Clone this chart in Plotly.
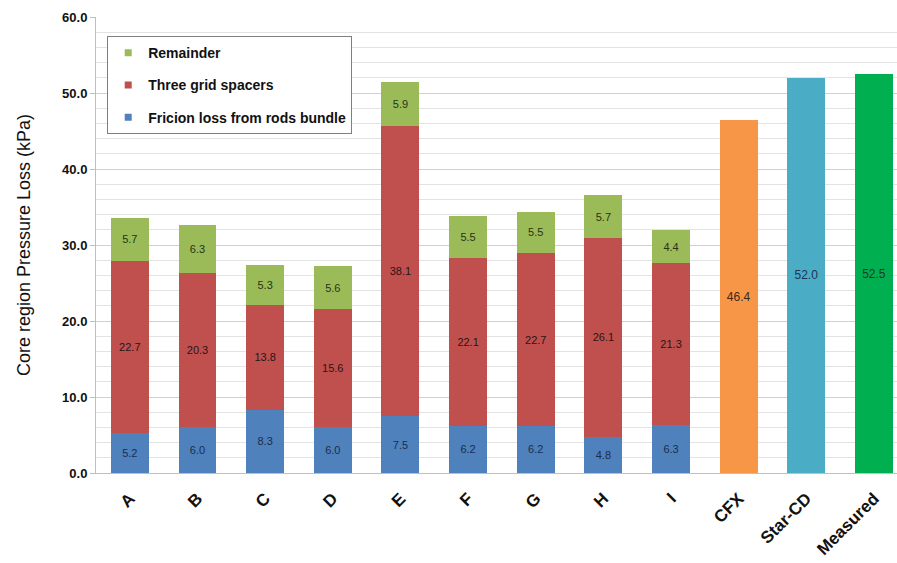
import plotly.graph_objects as go

# Categories and loss components (kPa)
cases = ["A", "B", "C", "D", "E", "F", "G", "H", "I"]
friction = [5.2, 6.0, 8.3, 6.0, 7.5, 6.2, 6.2, 4.8, 6.3]
grid_spacers = [22.7, 20.3, 13.8, 15.6, 38.1, 22.1, 22.7, 26.1, 21.3]
remainder = [5.7, 6.3, 5.3, 5.6, 5.9, 5.5, 5.5, 5.7, 4.4]

# Whole-core totals from the codes and the measurement
totals_names = ["CFX", "Star-CD", "Measured"]
totals_values = [46.4, 52.0, 52.5]
totals_colors = ["#F79646", "#4BACC6", "#00B050"]
totals_text_colors = ["#3a2a1a", "#1f3350", "#1f3a2a"]

all_cats = cases + totals_names
FONT = "Liberation Sans, Arial, sans-serif"
BAR_W = 0.56

fig = go.Figure()

def stacked(name, vals, color, textcolor, rank):
    fig.add_trace(go.Bar(
        x=cases, y=vals, name=name,
        marker=dict(color=color, line=dict(width=0)),
        width=BAR_W,
        text=[f"{v:.1f}" for v in vals],
        textposition="inside", insidetextanchor="middle",
        textangle=0, constraintext="none",
        textfont=dict(family=FONT, size=11, color=textcolor),
        showlegend=False,
    ))
    # small square key for the legend
    fig.add_trace(go.Scatter(
        x=[None], y=[None], mode="markers", name=f"<b>{name}</b>",
        marker=dict(symbol="square", size=7, color=color),
        legendgroup=f"g{rank}", legendrank=rank, showlegend=True,
    ))

stacked("Fricion loss from rods bundle", friction, "#4F81BD", "#1c2d4a", 3)
stacked("Three grid spacers", grid_spacers, "#C0504D", "#2a1515", 2)
stacked("Remainder", remainder, "#9BBB59", "#2a3315", 1)

fig.add_trace(go.Bar(
    x=totals_names, y=totals_values,
    marker=dict(color=totals_colors, line=dict(width=0)),
    width=BAR_W,
    text=[f"{v:.1f}" for v in totals_values],
    textposition="inside", insidetextanchor="middle",
    textangle=0, constraintext="none",
    textfont=dict(family=FONT, size=12, color=totals_text_colors),
    showlegend=False,
))

fig.update_layout(
    width=897, height=563,
    margin=dict(l=96, r=0, t=17, b=90),
    barmode="stack",
    paper_bgcolor="white", plot_bgcolor="white",
    font=dict(family=FONT, size=12, color="#222"),
    showlegend=True,
    legend=dict(
        x=0.014, y=0.958, xanchor="left", yanchor="top",
        traceorder="grouped", tracegroupgap=11,
        bgcolor="white", bordercolor="#7f7f7f", borderwidth=1,
        font=dict(family=FONT, size=14, color="#111"),
        itemwidth=30,
    ),
    xaxis=dict(
        categoryorder="array", categoryarray=all_cats,
        range=[-0.5, 11.34],
        tickangle=-45,
        tickfont=dict(family=FONT, size=17, color="#111", weight="bold"),
        ticklabelstandoff=8,
        showline=True, linecolor="#bfbfbf", linewidth=1,
        ticks="", showgrid=False,
    ),
    yaxis=dict(
        range=[0, 60], dtick=10, tickformat=".1f",
        tickfont=dict(family=FONT, size=13, color="#111", weight="bold"),
        showline=True, linecolor="#bfbfbf", linewidth=1,
        ticks="outside", ticklen=5, tickcolor="#bfbfbf",
        showgrid=True, gridcolor="#d0d0d0", gridwidth=1,
        minor=dict(dtick=2, showgrid=True, gridcolor="#e3e3e3", gridwidth=1),
        zeroline=False,
        title=dict(text="Core region Pressure Loss (kPa)",
                   font=dict(family=FONT, size=18, color="#111"), standoff=26),
    ),
)

fig.write_html("out.html")
